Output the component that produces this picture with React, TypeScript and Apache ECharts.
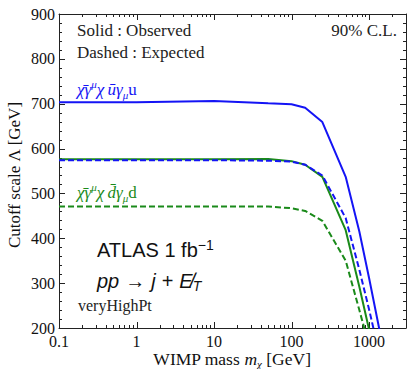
import React, { useEffect, useRef } from 'react';
import * as echarts from 'echarts';

// WIMP mass values (GeV) where the limit curves are sampled
const masses = [0.1, 1, 10, 50, 100, 150, 250, 500, 750, 1000, 1500];
// Cutoff scale Lambda (GeV)
const uObserved = [703, 703, 706, 701, 699, 691, 659, 537, 415, 312, 160];
const uExpected = [574, 574, 574, 573, 571, 564, 540, 445, 330, 242, 110];
const dObserved = [576, 576, 576, 577, 572, 564, 537, 418, 292, 197, 60];
const dExpected = [471, 471, 471, 471, 467, 461, 439, 350, 240, 161, 40];

const xMajorTicks = [0.1, 1, 10, 100, 1000];
const xMinorTicks = [
  0.2, 0.3, 0.4, 0.5, 0.6, 0.7, 0.8, 0.9,
  2, 3, 4, 5, 6, 7, 8, 9,
  20, 30, 40, 50, 60, 70, 80, 90,
  200, 300, 400, 500, 600, 700, 800, 900,
  2000,
];
const yMajorTicks = [200, 300, 400, 500, 600, 700, 800, 900];
const yMinorTicks = [
  220, 240, 260, 280, 320, 340, 360, 380, 420, 440, 460, 480,
  520, 540, 560, 580, 620, 640, 660, 680, 720, 740, 760, 780,
  820, 840, 860, 880,
];
const xMin = 0.1;
const xMax = 3000;
const yMin = 200;
const yMax = 900;
const yStep = 100;

const BLUE = '#1414f5';
const GREEN = '#1a8a1a';
const AXIS = '#222';
const SERIF = '"Liberation Serif", "DejaVu Serif", serif';
const SANS = '"Liberation Sans", Arial, sans-serif';

const pairs = (ys: number[]) => masses.map((m, i) => [m, ys[i]]);

export default function App() {
  const ref = useRef<HTMLDivElement>(null);
  useEffect(() => {
    if (!ref.current) return;
    const chart = echarts.init(ref.current, undefined, { renderer: 'svg' });

    const xBase = (position: 'top' | 'bottom', labels: boolean) => ({
      type: 'log',
      min: xMin,
      max: xMax,
      position,
      axisLine: { show: true, lineStyle: { color: AXIS } },
      axisTick: { show: false },
      axisLabel: {
        show: labels,
        customValues: xMajorTicks,
        margin: 5,
        fontSize: 16,
        fontFamily: SERIF,
        color: '#111',
        formatter: (v: number) => (v < 0.5 ? '0.1' : String(Math.round(v))),
      },
      splitLine: { show: false },
    });

    const yBase = (position: 'left' | 'right', labels: boolean) => ({
      type: 'value',
      min: yMin,
      max: yMax,
      interval: yStep,
      position,
      axisLine: { show: true, lineStyle: { color: AXIS } },
      axisTick: { show: false },
      axisLabel: { show: labels, margin: 4, fontSize: 16, fontFamily: SERIF, color: '#111' },
      splitLine: { show: false },
    });

    const line = (name: string, ys: number[], color: string, dashed: boolean) => ({
      name,
      type: 'line',
      xAxisIndex: 0,
      yAxisIndex: 0,
      data: pairs(ys),
      symbol: 'none',
      clip: true,
      lineStyle: { color, width: 2, type: dashed ? [6, 3] : 'solid' },
    });

    const mathLabel = (x: number, y: number, quark: string, fill: string) => ({
      type: 'text',
      x,
      y,
      style: {
        text: `{i|χ̄γ}{sup|μ}{i|χ} {i|${quark}̄γ}{sub|μ}{r|${quark}}`,
        fill,
        verticalAlign: 'middle',
        rich: {
          i: { fontSize: 17, fontFamily: SERIF, fontStyle: 'italic', fill, lineHeight: 22 },
          r: { fontSize: 17, fontFamily: SERIF, fill, lineHeight: 22 },
          sup: { fontSize: 11, fontFamily: SERIF, fontStyle: 'italic', fill, verticalAlign: 'top', lineHeight: 12 },
          sub: { fontSize: 11, fontFamily: SERIF, fontStyle: 'italic', fill, verticalAlign: 'bottom', lineHeight: 12 },
        },
      },
    });

    chart.setOption({
      animation: false,
      grid: { left: 59, right: 1, top: 14, bottom: 41 },
      xAxis: [xBase('bottom', true), xBase('top', false)],
      yAxis: [yBase('left', true), yBase('right', false)],
      series: [
        line('d observed', dObserved, GREEN, false),
        line('u observed', uObserved, BLUE, false),
        line('d expected', dExpected, GREEN, true),
        line('u expected', uExpected, BLUE, true),
      ],
    });

    // Tick marks on all four sides, placed through the chart's own axis scales
    const px = (v: number) => chart.convertToPixel({ xAxisIndex: 0 }, v) as number;
    const py = (v: number) => chart.convertToPixel({ yAxisIndex: 0 }, v) as number;
    const left = px(xMin);
    const right = px(xMax);
    const bottom = py(yMin);
    const top = py(yMax);
    const seg = (x1: number, y1: number, x2: number, y2: number) => ({
      type: 'line',
      silent: true,
      shape: { x1, y1, x2, y2 },
      style: { stroke: AXIS, lineWidth: 1 },
    });
    const ticks: any[] = [];
    const xTick = (v: number, len: number) => {
      const x = Math.round(px(v)) + 0.5;
      ticks.push(seg(x, bottom, x, bottom - len));
      ticks.push(seg(x, top, x, top + len));
    };
    const yTick = (v: number, len: number) => {
      const y = Math.round(py(v)) + 0.5;
      ticks.push(seg(left, y, left + len, y));
      ticks.push(seg(right, y, right - len, y));
    };
    xMajorTicks.forEach((v) => xTick(v, 6));
    xMinorTicks.forEach((v) => xTick(v, 3));
    yMajorTicks.forEach((v) => yTick(v, 6));
    yMinorTicks.forEach((v) => yTick(v, 3));

    chart.setOption({
      graphic: [
        ...ticks,
        { type: 'text', x: 77, y: 30, style: { text: 'Solid : Observed', font: `17px ${SERIF}`, fill: '#222', verticalAlign: 'middle' } },
        { type: 'text', x: 77, y: 52, style: { text: 'Dashed : Expected', font: `17px ${SERIF}`, fill: '#222', verticalAlign: 'middle' } },
        { type: 'text', x: 397, y: 30, style: { text: '90% C.L.', font: `17px ${SERIF}`, fill: '#222', align: 'right', verticalAlign: 'middle' } },
        mathLabel(77, 89, 'u', BLUE),
        mathLabel(77, 192, 'd', GREEN),
        {
          type: 'text',
          x: 97,
          y: 250,
          style: {
            text: '{a|ATLAS 1 fb}{s|−1}',
            verticalAlign: 'middle',
            rich: {
              a: { fontSize: 20, fontFamily: SANS, fill: '#111', lineHeight: 24 },
              s: { fontSize: 14, fontFamily: SANS, fill: '#111', verticalAlign: 'top', lineHeight: 14 },
            },
          },
        },
        {
          type: 'text',
          x: 97,
          y: 281,
          style: {
            text: '{i|pp}{r|→}{i|j}{r|+}{i|E̸}{sub|T}',
            verticalAlign: 'middle',
            rich: {
              i: { fontSize: 20, fontFamily: SANS, fontStyle: 'italic', fill: '#111', lineHeight: 24 },
              r: { fontSize: 20, fontFamily: SANS, fill: '#111', lineHeight: 24, padding: [0, 6, 0, 6] },
              sub: { fontSize: 14, fontFamily: SANS, fontStyle: 'italic', fill: '#111', verticalAlign: 'bottom', lineHeight: 14 },
            },
          },
        },
        { type: 'text', x: 78, y: 305, style: { text: 'veryHighPt', font: `16px ${SERIF}`, fill: '#222', verticalAlign: 'middle' } },
        {
          type: 'text',
          x: 232,
          y: 359,
          style: {
            text: '{r|WIMP mass }{i|m}{sub|χ}{r| [GeV]}',
            align: 'center',
            verticalAlign: 'middle',
            rich: {
              r: { fontSize: 17.5, fontFamily: SERIF, fill: '#111', lineHeight: 20 },
              i: { fontSize: 17.5, fontFamily: SERIF, fontStyle: 'italic', fill: '#111', lineHeight: 20 },
              sub: { fontSize: 11, fontFamily: SERIF, fontStyle: 'italic', fill: '#111', verticalAlign: 'bottom', lineHeight: 12 },
            },
          },
        },
        {
          type: 'text',
          x: 14,
          y: 175,
          rotation: Math.PI / 2,
          style: { text: 'Cutoff scale Λ [GeV]', font: `17px ${SERIF}`, fill: '#111', align: 'center', verticalAlign: 'middle' },
        },
      ],
    });
    return () => chart.dispose();
  }, []);
  return <div ref={ref} style={{ position: 'absolute', left: 0, top: 0, width: 407, height: 369 }} />;
}
